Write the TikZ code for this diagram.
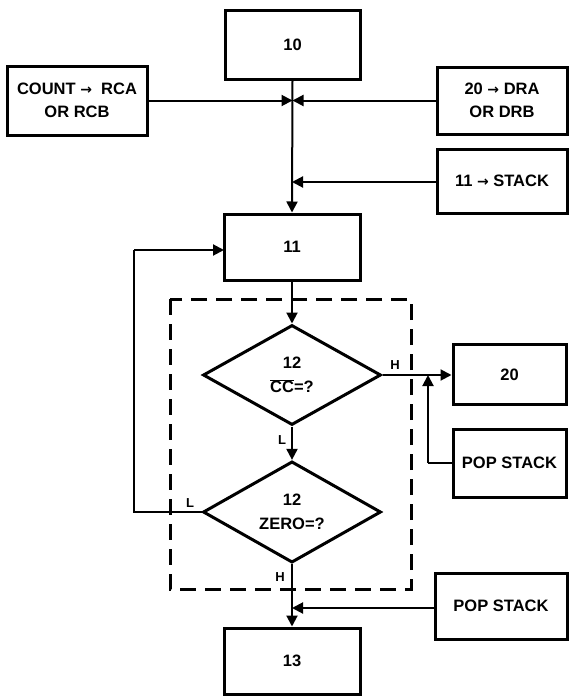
\documentclass[tikz,border=0pt]{standalone}
\usepackage{fontspec}
\setmainfont{Liberation Sans}
\newfontfamily\arrfont{DejaVu Sans}
\newcommand{\myarr}{{\arrfont\bfseries\fontsize{14}{14}\selectfont →}}
\usetikzlibrary{shapes.geometric,arrows.meta}
\tikzset{
  box/.style={draw,line width=3pt,rectangle,inner sep=0pt,align=center,
    font=\fontsize{16.5}{23}\selectfont\bfseries},
  decision/.style={draw,line width=3pt,diamond,inner sep=0pt,align=center,
    minimum width=178pt,minimum height=100pt,
    font=\fontsize{16.5}{24}\selectfont\bfseries},
  conn/.style={line width=2pt,-{Triangle[length=11pt,width=11pt]}},
  plain/.style={line width=2pt},
  lbl/.style={font=\fontsize{13}{13}\selectfont\bfseries,inner sep=0pt},
  dashbox/.style={draw,line width=3pt,dash pattern=on 16pt off 9pt}
}
\begin{document}
\begin{tikzpicture}[x=1pt,y=-1pt]
\useasboundingbox (0,0) rectangle (568,696);
% boxes
\node[box,minimum width=135pt,minimum height=69pt] (b10) at (292.5,44.5) {10};
\node[box,minimum width=140pt,minimum height=69pt] (cnt) at (77,100.5) {COUNT \myarr\ \ RCA\\OR RCB};
\node[box,minimum width=130pt,minimum height=67pt] (dra) at (502,100.5) {20 \myarr\ DRA\\OR DRB};
\node[box,minimum width=130pt,minimum height=64pt] (stk) at (502,181) {11 \myarr\ STACK};
\node[box,minimum width=136pt,minimum height=66pt] (b11) at (292,247) {11};
\node[decision] (d1) at (292,375) {12\\$\overline{\hbox{CC}}$=?};
\node[decision] (d2) at (292,512) {12\\ZERO=?};
\node[box,minimum width=113pt,minimum height=60pt] (b20) at (509.5,374.5) {20};
\node[box,minimum width=113pt,minimum height=68pt] (pop1) at (509.5,463) {POP STACK};
\node[box,minimum width=132pt,minimum height=66pt] (pop2) at (501,606) {POP STACK};
\node[box,minimum width=136pt,minimum height=66pt] (b13) at (292,661) {13};
% dashed region
\draw[dashbox] (170,299) rectangle (411,589);
% junction coordinates
\coordinate (j1) at (b10.south |- cnt.east);
\coordinate (j2) at (292,182);
\coordinate (j3) at (292,608);
\coordinate (p1a) at (428,463);
\coordinate (p1b) at (428,375);
\coordinate (la) at (134,512);
\coordinate (lb) at (134,250);
\coordinate (lc) at (224,250);
% connectors
\draw[conn] (b10.south) -- (b11.north);
\draw[conn] (cnt.east) -- (j1);
\draw[conn] (dra.west) -- (j1);
\draw[conn] (stk.west |- j2) -- (j2);
\draw[conn] (b11.south) -- (d1.north);
\draw[conn] (d1.east) -- (b20.west |- d1.east);
\draw[plain] (pop1.west) -- (p1a);
\draw[conn] (p1a) -- (p1b);
\draw[conn] (d1.south) -- (d2.north);
\draw[plain] (d2.west) -- (la) -- (lb);
\draw[conn] (lb) -- (lc);
\draw[conn] (d2.south) -- (b13.north);
\draw[conn] (pop2.west |- j3) -- (j3);
% labels
\node[lbl] (h1) at (395,365) {H};
\node[lbl] (l1) at (282,440) {L};
\node[lbl] (l2) at (190,503) {L};
\node[lbl] (h2) at (280,577) {H};
\end{tikzpicture}
\end{document}
